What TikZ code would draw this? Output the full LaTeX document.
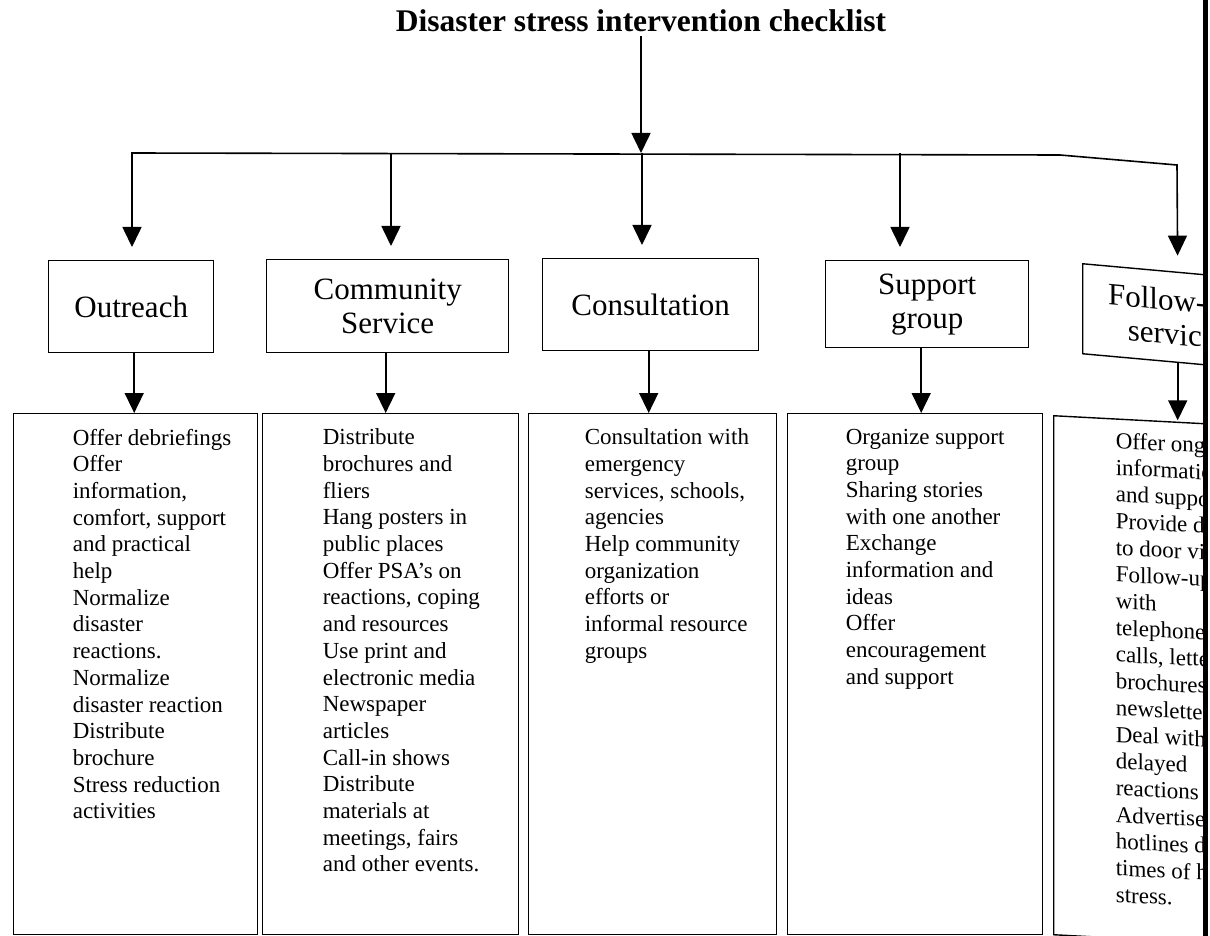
\documentclass[tikz,border=0pt]{standalone}
\usepackage{fontspec}
\setmainfont{Liberation Serif}
\usetikzlibrary{arrows.meta}
\begin{document}
\begin{tikzpicture}[x=1pt,y=-1pt,
  line width=1.6pt,
  arr/.style={-{Triangle[width=19pt,length=20pt]}},
  hbox/.style={draw, line width=1.4pt, inner sep=0pt, anchor=north west,
    font=\fontsize{31}{34}\selectfont, align=center},
  lbox/.style={draw, line width=1.4pt, inner sep=0pt, anchor=north west},
  ltext/.style={anchor=north west, inner sep=0pt, align=left,
    font=\fontsize{23}{26.7}\selectfont},
]
\useasboundingbox (0,0) rectangle (1210,936);
\begin{scope}
\clip (0,0) rectangle (1203,936);
% title
\node[font=\bfseries\fontsize{31.5}{34}\selectfont, anchor=base, inner sep=3pt]
  (title) at (641,32) {Disaster stress intervention checklist};
% header boxes
\node[hbox, minimum width=165pt, minimum height=92pt] (h1) at (48,260) {Outreach};
\node[hbox, minimum width=242pt, minimum height=93pt] (h2) at (266,259) {Community\\Service};
\node[hbox, minimum width=216pt, minimum height=92pt] (h3) at (542,258) {Consultation};
\node[hbox, minimum width=203pt, minimum height=87pt] (h4) at (825,260) {Support\\group};
\begin{scope}[shift={(1082,263)}, yslant=-0.09]
  \node[hbox, transform shape, minimum width=190pt, minimum height=90pt] (h5) at (0,0) {Follow-up\hspace*{10pt}\\services};
\end{scope}
% list boxes
\node[lbox, minimum width=244pt, minimum height=521pt] (l1) at (13,413) {};
\node[lbox, minimum width=256pt, minimum height=521pt] (l2) at (262,413) {};
\node[lbox, minimum width=248pt, minimum height=521pt] (l3) at (528,413) {};
\node[lbox, minimum width=255pt, minimum height=521pt] (l4) at (787,413) {};
\begin{scope}[shift={(1053,415)}, yslant=-0.053]
  \node[lbox, transform shape, minimum width=200pt, minimum height=519pt] (l5) at (0,0) {};
  \node[ltext, transform shape] (t5) at (62,13) {Offer ongoing\\information\\and support\\Provide door\\to door visits\\Follow-up\\with\\telephone,\\calls, letters,\\brochures,\\newsletters,\\Deal with\\delayed\\reactions\\Advertise\\hotlines during\\times of high\\stress.};
\end{scope}
% list texts
\node[ltext] (t1) at (72,428) {Offer debriefings\\Offer\\information,\\comfort, support\\and practical\\help\\Normalize\\disaster\\reactions.\\Normalize\\disaster reaction\\Distribute\\brochure\\Stress reduction\\activities};
\node[ltext] (t2) at (322,428) {Distribute\\brochures and\\fliers\\Hang posters in\\public places\\Offer PSA’s on\\reactions, coping\\and resources\\Use print and\\electronic media\\Newspaper\\articles\\Call-in shows\\Distribute\\materials at\\meetings, fairs\\and other events.};
\node[ltext] (t3) at (584,428) {Consultation with\\emergency\\services, schools,\\agencies\\Help community\\organization\\efforts or\\informal resource\\groups};
\node[ltext] (t4) at (845,428) {Organize support\\group\\Sharing stories\\with one another\\Exchange\\information and\\ideas\\Offer\\encouragement\\and support};
% bus coordinates
\coordinate (j0) at (642,153);
\coordinate (b1) at (132,153);
\coordinate (b2) at (391,153);
\coordinate (b3) at (642,153);
\coordinate (b4) at (900,153);
\coordinate (bend) at (1060,155);
\coordinate (b5) at (1177,165);
% connectors
\draw[arr] (title.south) -- (title.south |- j0);
\draw[arr, shorten >=13pt] (bend) -- (b1) -- (b1 |- h1.north);
\draw[arr, shorten >=16pt] (bend) -- (b5) -- (h5.north);
\draw[arr, shorten >=13pt] (b2) -- (b2 |- h2.north);
\draw[arr, shorten >=13pt] (b3) -- (b3 |- h3.north);
\draw[arr, shorten >=13pt] (b4) -- (b4 |- h4.north);
\draw[arr] ([xshift=3pt]h1.south) -- ([xshift=3pt]h1.south |- l1.north);
\draw[arr] ([xshift=-2pt]h2.south) -- ([xshift=-2pt]h2.south |- l2.north);
\draw[arr] ([xshift=-2pt]h3.south) -- ([xshift=-2pt]h3.south |- l3.north);
\draw[arr] ([xshift=-6pt]h4.south) -- ([xshift=-6pt]h4.south |- l4.north);
\draw[arr] (h5.south) -- (h5.south |- l5.north);
\end{scope}
% scan edge
\fill (1203,0) rectangle (1208,936);
\end{tikzpicture}
\end{document}
